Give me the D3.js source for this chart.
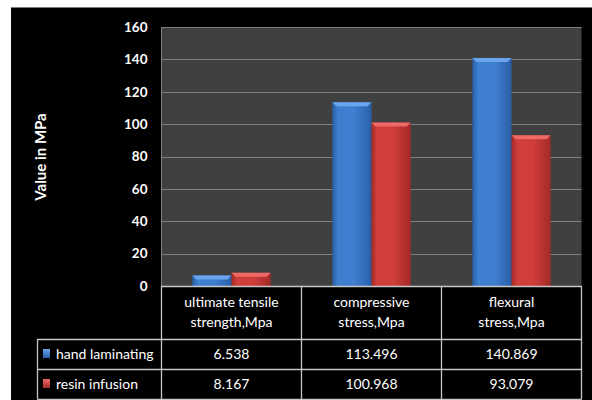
<!DOCTYPE html>
<html>
<head>
<meta charset="utf-8">
<script src="https://cdn.jsdelivr.net/npm/d3@7"></script>
<style>
  body { margin: 0; background: #fff; }
  svg { display: block; }
</style>
</head>
<body>
<svg id="chart" width="592" height="400"></svg>
<script>
const categories = ["ultimate tensile strength,Mpa", "compressive stress,Mpa", "flexural stress,Mpa"];
const headerLines = [["ultimate tensile", "strength,Mpa"], ["compressive", "stress,Mpa"], ["flexural", "stress,Mpa"]];
const seriesNames = ["hand laminating", "resin infusion"];
const handLaminating = [6.538, 113.496, 140.869];
const resinInfusion = [8.167, 100.968, 93.079];
const valueLabels = [["6.538", "113.496", "140.869"], ["8.167", "100.968", "93.079"]];
const yTicks = [0, 20, 40, 60, 80, 100, 120, 140, 160];

const series = [
  { name: seriesNames[0], values: handLaminating, light: "#6aa6ec", mid: "#3f7fd0", dark: "#2a5fa8" },
  { name: seriesNames[1], values: resinInfusion, light: "#ee6a66", mid: "#cf3e3a", dark: "#a52a28" }
];

const svg = d3.select("#chart");
const font = "Lato, 'Open Sans', sans-serif";

// black panel
svg.append("rect").attr("x", 11).attr("y", 7).attr("width", 581).attr("height", 393).attr("fill", "#000");
svg.append("line").attr("x1", 11).attr("x2", 592).attr("y1", 7.5).attr("y2", 7.5)
  .attr("stroke", "#7a7a7a").attr("stroke-width", 1);

const plot = { left: 161.5, right: 581.5, top: 27, bottom: 286 };

const x = d3.scaleBand().domain(categories).range([plot.left, plot.right]);
const xs = d3.scaleBand().domain(seriesNames).range([0, x.bandwidth()]).paddingOuter(0.79).paddingInner(0);
const y = d3.scaleLinear().domain([0, 160]).range([plot.bottom, plot.top]);

// plot background
svg.append("rect").attr("x", plot.left).attr("y", plot.top)
  .attr("width", plot.right - plot.left).attr("height", plot.bottom - plot.top)
  .attr("fill", "#404040");

// gridlines
svg.append("g").selectAll("line").data(yTicks.filter(d => d > 0)).join("line")
  .attr("x1", plot.left).attr("x2", plot.right)
  .attr("y1", d => Math.round(y(d)) + 0.5).attr("y2", d => Math.round(y(d)) + 0.5)
  .attr("stroke", "#808080").attr("stroke-width", 1);
svg.append("line").attr("x1", plot.left).attr("x2", plot.left).attr("y1", plot.top).attr("y2", plot.bottom)
  .attr("stroke", "#808080");

// y axis
const yAxis = svg.append("g").attr("transform", `translate(${plot.left},0)`)
  .call(d3.axisLeft(y).tickValues(yTicks).tickSize(0).tickPadding(14));
yAxis.select(".domain").remove();
yAxis.selectAll("text").attr("fill", "#fff").attr("font-family", font)
  .attr("font-weight", "bold").attr("font-size", 13.5);

svg.append("text")
  .attr("transform", "translate(46,157) rotate(-90)")
  .attr("text-anchor", "middle").attr("fill", "#fff")
  .attr("font-family", font).attr("font-weight", "bold").attr("font-size", 15)
  .text("Value in MPa");

// gradients
const defs = svg.append("defs");
series.forEach((s, i) => {
  const g = defs.append("linearGradient").attr("id", "grad" + i).attr("x1", 0).attr("x2", 1).attr("y1", 0).attr("y2", 0);
  g.append("stop").attr("offset", "0%").attr("stop-color", s.dark);
  g.append("stop").attr("offset", "15%").attr("stop-color", s.mid);
  g.append("stop").attr("offset", "55%").attr("stop-color", s.mid);
  g.append("stop").attr("offset", "100%").attr("stop-color", s.dark);
  const k = defs.append("linearGradient").attr("id", "key" + i).attr("x1", 0).attr("x2", 0).attr("y1", 0).attr("y2", 1);
  k.append("stop").attr("offset", "0%").attr("stop-color", s.light);
  k.append("stop").attr("offset", "100%").attr("stop-color", s.dark);
});

// bars
series.forEach((s, i) => {
  const g = svg.append("g");
  const bars = g.selectAll("g").data(categories).join("g")
    .attr("transform", c => `translate(${x(c) + xs(s.name)},0)`);
  bars.append("rect")
    .attr("x", 0).attr("width", xs.bandwidth())
    .attr("y", (c, j) => y(s.values[j])).attr("height", (c, j) => y(0) - y(s.values[j]))
    .attr("fill", `url(#grad${i})`);
  // top bevel
  bars.append("path")
    .attr("d", (c, j) => {
      const t = y(s.values[j]), w = xs.bandwidth(), b = Math.min(4, (y(0) - t) / 2);
      return `M0,${t}L${w},${t}L${w - b},${t + b}L${b},${t + b}Z`;
    })
    .attr("fill", s.light);
});

// table
const table = { left: 37.5, top: plot.bottom, headerH: 53, rowH: 30 };
const lineColor = "#c8c8c8";
const tg = svg.append("g");
const fs = 14;

// header cell texts
categories.forEach((c, j) => {
  const cx = x(c) + x.bandwidth() / 2;
  headerLines[j].forEach((ln, k) => {
    tg.append("text").attr("x", cx).attr("y", table.top + 21 + k * 20)
      .attr("text-anchor", "middle").attr("fill", "#fff")
      .attr("font-family", font).attr("font-size", fs).text(ln);
  });
});

// rows
series.forEach((s, i) => {
  const ry = table.top + table.headerH + i * table.rowH;
  tg.append("rect").attr("x", 43).attr("y", ry + 10).attr("width", 7).attr("height", 9)
    .attr("fill", `url(#key${i})`);
  tg.append("text").attr("x", 56).attr("y", ry + 20)
    .attr("fill", "#fff").attr("font-family", font).attr("font-size", fs).text(s.name);
  categories.forEach((c, j) => {
    tg.append("text").attr("x", x(c) + x.bandwidth() / 2).attr("y", ry + 20)
      .attr("text-anchor", "middle").attr("fill", "#fff")
      .attr("font-family", font).attr("font-size", fs).text(valueLabels[i][j]);
  });
});

// table lines
const hLines = [
  { y: table.top + 0.5, x1: plot.left, x2: plot.right },
  { y: table.top + table.headerH + 0.5, x1: table.left, x2: plot.right },
  { y: table.top + table.headerH + table.rowH + 0.5, x1: table.left, x2: plot.right },
  { y: table.top + table.headerH + 2 * table.rowH + 0.5, x1: table.left, x2: plot.right }
];
tg.selectAll("line.h").data(hLines).join("line").attr("class", "h")
  .attr("x1", d => d.x1).attr("x2", d => d.x2).attr("y1", d => d.y).attr("y2", d => d.y)
  .attr("stroke", lineColor).attr("stroke-width", 1.3);
const vLines = [
  { x: table.left, y1: table.top + table.headerH },
  { x: plot.left, y1: table.top },
  { x: x(categories[1]), y1: table.top },
  { x: x(categories[2]), y1: table.top },
  { x: plot.right, y1: table.top }
];
tg.selectAll("line.v").data(vLines).join("line").attr("class", "v")
  .attr("x1", d => d.x).attr("x2", d => d.x).attr("y1", d => d.y1)
  .attr("y2", table.top + table.headerH + 2 * table.rowH + 0.5)
  .attr("stroke", lineColor).attr("stroke-width", 1.3);
</script>
</body>
</html>
